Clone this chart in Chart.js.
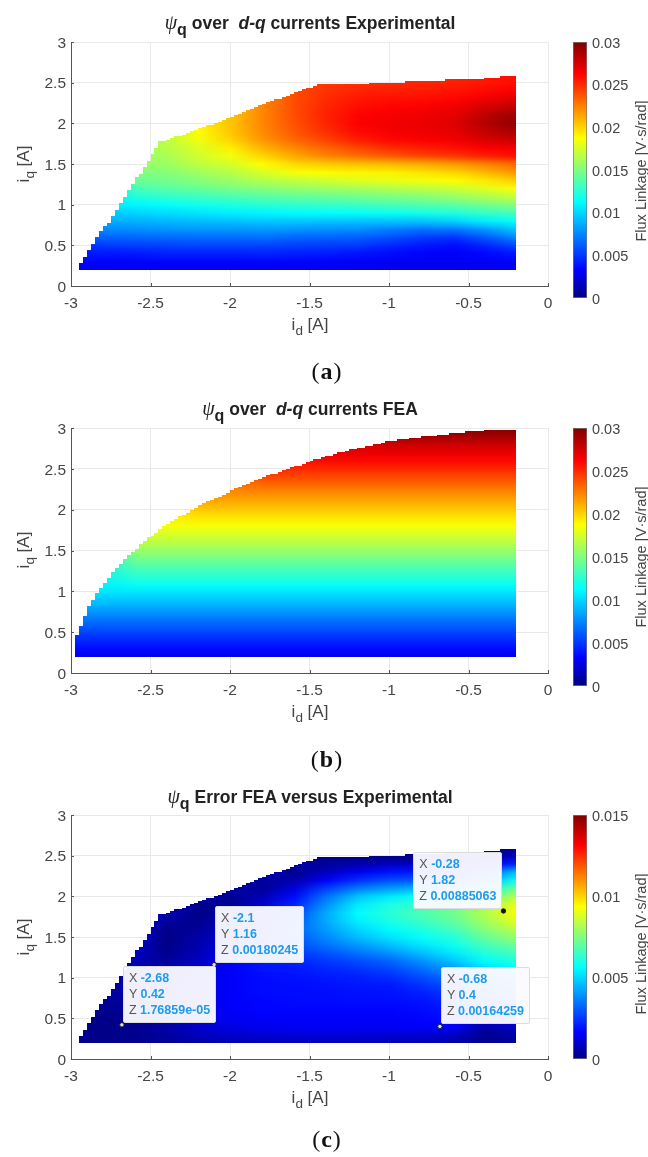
<!DOCTYPE html>
<html>
<head>
<meta charset="utf-8">
<script src="https://cdn.jsdelivr.net/npm/chart.js@4"></script>
<style>
    body { margin: 0; background: #fff; }
    #page { position: relative; width: 648px; height: 1157px; overflow: hidden; font-family: "Liberation Sans", sans-serif; color: #454545; }
    canvas { position: absolute; }
    .title { position: absolute; left: 0; width: 620px; text-align: center; font-weight: bold; font-size: 17.5px; line-height: 20px; color: #222; white-space: pre; }
    .title .psi { font: italic 20px "Liberation Serif", serif; }
    .title sub { font-size: 16px; line-height: 0; vertical-align: -6px; }
    .xlabel, .ylabel, .cblabel { position: absolute; font-size: 17px; line-height: 20px; white-space: nowrap; }
    .xlabel { left: 250px; width: 120px; text-align: center; }
    .ylabel { left: -36px; width: 120px; text-align: center; transform: rotate(-90deg); }
    .cblabel { left: 561px; width: 160px; text-align: center; font-size: 14.5px; transform: rotate(-90deg); }
    .xlabel sub, .ylabel sub { font-size: 13.5px; line-height: 0; vertical-align: -5px; }
    .caption { position: absolute; left: 227px; width: 200px; text-align: center; font: 24px "Liberation Serif", serif; letter-spacing: 1px; color: #111; }
    .tip { position: absolute; background: rgba(250, 250, 255, 0.96); border: 1px solid #dcdcdc; border-radius: 2px; padding: 3px 5px 4px 5px; font-size: 12.5px; line-height: 16px; color: #555; white-space: nowrap; }
    .tip b { color: #1f9bec; }
</style>
</head>
<body>
<div id="page"></div>
<script>
// current axes
const xTicks = [-3, -2.5, -2, -1.5, -1, -0.5, 0];
const yTicks = [0, 0.5, 1, 1.5, 2, 2.5, 3];
const fluxTicks = [0, 0.005, 0.01, 0.015, 0.02, 0.025, 0.03];
const errorTicks = [0, 0.005, 0.01, 0.015];

// grid nodes, flux values in units of 1e-3 V*s/rad
const idFine = [-3.0, -2.8, -2.6, -2.4, -2.2, -2.0, -1.8, -1.6, -1.4, -1.2, -1.0, -0.8, -0.6, -0.4, -0.2];
const iqExp = [0.2, 0.3, 0.4, 0.5, 0.6, 0.7, 0.8, 0.9, 1.0, 1.1, 1.2, 1.3, 1.4, 1.5, 1.6, 1.7, 1.8, 1.9, 2.0, 2.1, 2.2, 2.3, 2.4, 2.5, 2.6];
const idCoarse = [-3.0, -2.6, -2.2, -1.8, -1.4, -1.0, -0.6, -0.2];
const iqFea = [0.2, 0.3, 0.4, 0.5, 0.6, 0.7, 0.8, 0.9, 1.0, 1.1, 1.2, 1.3, 1.4, 1.5, 1.6, 1.7, 1.8, 1.9, 2.0, 2.1, 2.2, 2.3, 2.4, 2.5, 2.6, 2.7, 2.8, 2.9, 3.0];
const __ = null;

const psiExperimental = [
    [2.7, 2.7, 2.7, 2.7, 2.7, 2.7, 2.7, 2.7, 2.7, 2.7, 2.6, 2.6, 2.6, 2.6, 2.7],
    [3.3, 3.3, 3.3, 3.4, 3.4, 3.4, 3.4, 3.4, 3.3, 3.2, 3.0, 3.0, 3.0, 3.2, 3.3],
    [4.0, 4.0, 4.1, 4.3, 4.3, 4.3, 4.4, 4.2, 4.1, 3.9, 3.6, 3.3, 3.1, 3.5, 4.0],
    [5.0, 5.0, 5.2, 5.3, 5.4, 5.4, 5.4, 5.2, 5.1, 5.0, 4.5, 4.0, 3.6, 4.4, 5.5],
    [6.4, 6.4, 6.5, 6.6, 6.7, 6.7, 6.8, 6.5, 6.4, 6.3, 5.8, 5.2, 4.9, 6.0, 7.5],
    [__, 7.6, 7.7, 7.9, 8.0, 8.0, 8.1, 7.9, 7.8, 7.7, 7.3, 6.9, 7.0, 8.0, 9.5],
    [__, 8.7, 8.9, 9.1, 9.3, 9.4, 9.6, 9.6, 9.5, 9.5, 9.5, 9.5, 10.0, 10.8, 11.5],
    [__, 9.6, 9.9, 10.2, 10.5, 10.8, 11.0, 11.2, 11.3, 11.4, 11.6, 11.9, 12.2, 12.8, 13.3],
    [__, 10.6, 11.0, 11.3, 11.7, 12.0, 12.4, 12.6, 12.8, 13.0, 13.3, 13.6, 14.0, 14.6, 15.2],
    [__, __, 12.2, 12.6, 13.0, 13.4, 13.8, 14.1, 14.3, 14.6, 14.9, 15.2, 15.7, 16.3, 17.0],
    [__, __, 13.4, 13.9, 14.3, 14.8, 15.2, 15.6, 15.9, 16.2, 16.5, 16.8, 17.2, 17.8, 18.6],
    [__, __, 14.4, 14.6, 15.2, 15.8, 16.5, 17.0, 17.4, 17.8, 18.1, 18.4, 18.8, 19.4, 20.2],
    [__, __, 15.0, 15.2, 15.9, 16.6, 17.6, 18.5, 18.8, 19.0, 19.1, 19.5, 20.0, 20.8, 21.8],
    [__, __, 15.6, 15.8, 16.8, 17.5, 18.8, 19.8, 20.3, 20.6, 20.8, 21.2, 21.7, 22.4, 23.2],
    [__, __, 15.8, 16.2, 17.4, 18.4, 20.0, 21.3, 22.3, 23.0, 23.6, 24.2, 24.7, 25.3, 25.8],
    [__, __, __, 16.6, 17.7, 19.2, 21.0, 22.3, 23.3, 24.2, 25.0, 25.4, 25.8, 26.3, 26.6],
    [__, __, __, 16.8, 18.4, 20.0, 21.8, 23.2, 24.3, 25.4, 26.0, 26.3, 26.6, 27.3, 27.8],
    [__, __, __, 17.0, 18.8, 20.4, 22.2, 23.7, 24.9, 26.0, 26.5, 26.7, 27.0, 28.0, 28.8],
    [__, __, __, __, 19.2, 20.5, 22.3, 23.9, 25.2, 26.3, 26.6, 26.8, 27.2, 28.4, 29.5],
    [__, __, __, __, __, 20.5, 22.3, 24.0, 25.3, 26.2, 26.5, 26.7, 27.0, 28.2, 29.2],
    [__, __, __, __, __, __, 22.3, 24.0, 25.2, 25.9, 26.2, 26.3, 26.7, 27.5, 28.2],
    [__, __, __, __, __, __, 22.3, 24.0, 25.0, 25.6, 25.8, 25.9, 26.1, 26.7, 27.2],
    [__, __, __, __, __, __, __, 24.0, 24.8, 25.2, 25.4, 25.5, 25.7, 26.0, 26.4],
    [__, __, __, __, __, __, __, __, 24.7, 24.9, 25.1, 25.2, 25.3, 25.6, 25.9],
    [__, __, __, __, __, __, __, __, __, __, 25.1, 25.2, 25.3, 25.6, 25.9]
];

const psiFea = [
    [2.8, 2.8, 2.8, 2.8, 2.8, 2.8, 2.8, 2.8],
    [3.6, 3.6, 3.6, 3.6, 3.6, 3.6, 3.6, 3.6],
    [4.5, 4.5, 4.5, 4.5, 4.5, 4.5, 4.5, 4.5],
    [5.4, 5.4, 5.4, 5.4, 5.4, 5.4, 5.4, 5.4],
    [6.4, 6.4, 6.4, 6.4, 6.4, 6.4, 6.4, 6.4],
    [7.4, 7.4, 7.4, 7.4, 7.4, 7.4, 7.4, 7.4],
    [8.5, 8.5, 8.5, 8.5, 8.5, 8.5, 8.5, 8.5],
    [9.5, 9.5, 9.5, 9.5, 9.5, 9.5, 9.5, 9.5],
    [10.6, 10.6, 10.6, 10.6, 10.6, 10.6, 10.6, 10.6],
    [__, 11.6, 11.6, 11.6, 11.6, 11.6, 11.6, 11.6],
    [__, 12.6, 12.6, 12.6, 12.6, 12.6, 12.6, 12.6],
    [__, 13.6, 13.6, 13.6, 13.6, 13.6, 13.6, 13.6],
    [__, 14.6, 14.6, 14.6, 14.6, 14.6, 14.6, 14.6],
    [__, 15.7, 15.7, 15.7, 15.7, 15.7, 15.7, 15.7],
    [__, 16.7, 16.7, 16.7, 16.7, 16.7, 16.7, 16.7],
    [__, 17.6, 17.6, 17.6, 17.6, 17.6, 17.6, 17.6],
    [__, 18.5, 18.5, 18.5, 18.5, 18.5, 18.5, 18.5],
    [__, __, 19.4, 19.4, 19.4, 19.4, 19.4, 19.4],
    [__, __, 20.3, 20.3, 20.3, 20.3, 20.3, 20.3],
    [__, __, 21.2, 21.2, 21.2, 21.2, 21.2, 21.2],
    [__, __, 22.1, 22.1, 22.1, 22.1, 22.1, 22.1],
    [__, __, __, 23.1, 23.1, 23.1, 23.1, 23.1],
    [__, __, __, 24.1, 24.1, 24.1, 24.1, 24.1],
    [__, __, __, 25.1, 25.1, 25.1, 25.1, 25.1],
    [__, __, __, __, 26.0, 26.0, 26.0, 26.0],
    [__, __, __, __, 26.9, 26.9, 26.9, 26.9],
    [__, __, __, __, __, 27.8, 27.8, 27.8],
    [__, __, __, __, __, 28.9, 28.9, 28.9],
    [__, __, __, __, __, __, 30.0, 30.0]
];

const psiError = [
    [0.2, 0.2, 0.2, 0.3, 0.5, 0.6, 0.7, 0.7, 0.7, 0.7, 0.7, 0.7, 0.5, 0.3, 0.4],
    [0.1, 0.1, 0.2, 0.4, 0.8, 1.0, 1.1, 1.2, 1.2, 1.2, 1.1, 1.1, 0.9, 0.2, 0.5],
    [0.1, 0.1, 0.2, 0.5, 1.0, 1.3, 1.4, 1.5, 1.5, 1.5, 1.5, 1.6, 1.6, 0.6, 1.0],
    [0.1, 0.1, 0.2, 0.7, 1.2, 1.5, 1.6, 1.6, 1.6, 1.6, 1.6, 1.7, 1.8, 1.4, 1.6],
    [0.2, 0.2, 0.3, 0.8, 1.3, 1.6, 1.7, 1.7, 1.7, 1.7, 1.7, 1.8, 2.0, 2.3, 2.6],
    [__, 0.3, 0.4, 0.9, 1.4, 1.6, 1.7, 1.8, 1.8, 1.8, 1.8, 1.9, 2.2, 2.8, 3.4],
    [__, 0.4, 0.5, 1.0, 1.4, 1.6, 1.8, 1.8, 1.8, 1.9, 1.9, 2.1, 2.5, 3.2, 4.0],
    [__, 0.5, 0.5, 0.9, 1.4, 1.6, 1.8, 1.8, 1.9, 2.0, 2.0, 2.4, 2.9, 3.7, 4.6],
    [__, 0.5, 0.5, 0.8, 1.3, 1.6, 1.8, 1.9, 2.0, 2.1, 2.3, 2.8, 3.4, 4.3, 5.3],
    [__, __, 0.6, 0.6, 1.1, 1.6, 1.9, 2.0, 2.2, 2.4, 2.7, 3.3, 4.0, 5.0, 5.6],
    [__, __, 0.7, 0.4, 0.9, 1.6, 2.0, 2.2, 2.5, 2.8, 3.2, 3.9, 4.7, 5.6, 6.0],
    [__, __, 0.8, 0.2, 0.7, 1.5, 2.1, 2.5, 2.9, 3.4, 3.9, 4.6, 5.3, 6.1, 6.6],
    [__, __, 0.9, 0.1, 0.6, 1.3, 2.2, 2.8, 3.4, 4.0, 4.6, 5.2, 5.8, 6.6, 7.2],
    [__, __, 1.0, 0.1, 0.5, 1.2, 2.3, 3.0, 3.8, 4.6, 5.2, 5.7, 6.2, 7.1, 7.8],
    [__, __, 1.0, 0.2, 0.3, 1.0, 2.0, 3.2, 4.1, 5.0, 5.6, 6.1, 6.7, 7.6, 8.4],
    [__, __, __, 0.4, 0.2, 0.8, 1.7, 3.0, 4.3, 5.4, 6.0, 6.5, 7.1, 8.0, 9.0],
    [__, __, __, 0.7, 0.1, 0.5, 1.4, 2.7, 4.3, 5.6, 6.2, 6.8, 7.3, 8.2, 9.3],
    [__, __, __, 0.8, 0.2, 0.3, 1.0, 2.2, 3.9, 5.3, 6.0, 6.4, 7.0, 8.1, 9.0],
    [__, __, __, __, 0.6, 0.2, 0.7, 1.8, 3.4, 4.7, 5.3, 5.8, 6.3, 7.0, 8.3],
    [__, __, __, __, __, 0.6, 0.3, 1.2, 2.6, 3.6, 4.1, 4.5, 5.0, 5.8, 7.2],
    [__, __, __, __, __, __, 0.4, 0.6, 1.6, 2.4, 2.9, 3.1, 3.5, 4.4, 5.9],
    [__, __, __, __, __, __, 0.7, 0.2, 0.8, 1.4, 1.9, 2.0, 2.2, 3.0, 4.6],
    [__, __, __, __, __, __, __, 0.6, 0.3, 0.6, 0.8, 0.9, 1.0, 1.3, 2.2],
    [__, __, __, __, __, __, __, __, 0.1, 0.1, 0.1, 0.1, 0.2, 0.3, 0.8],
    [__, __, __, __, __, __, __, __, __, __, 0.1, 0.1, 0.2, 0.3, 0.3]
];

// outline of the measured / simulated regions
const edgeExpId = [-2.96, -2.43, -2.38, -2.15, -2.0, -1.7, -1.44, -1.25, -0.9, -0.5, -0.3, -0.3, -0.2, -0.2, -2.96];
const edgeExpIq = [0.2, 1.77, 1.8, 1.96, 2.07, 2.3, 2.48, 2.48, 2.51, 2.54, 2.56, 2.58, 2.58, 0.2, 0.2];
const edgeFeaId = [-2.98, -2.98, -2.96, -2.92, -2.88, -2.82, -2.75, -2.67, -2.57, -2.41, -2.32, -2.18, -2.05, -1.89, -1.68, -1.45, -1.22, -1.01, -0.75, -0.49, -0.33, -0.2, -0.2, -2.98];
const edgeFeaIq = [0.2, 0.34, 0.47, 0.67, 0.84, 1.02, 1.2, 1.38, 1.56, 1.8, 1.9, 2.06, 2.17, 2.32, 2.47, 2.62, 2.74, 2.83, 2.9, 2.96, 2.98, 2.98, 0.2, 0.2];

// data tips of the error plot
const tipX = [-2.68, -2.1, -0.28, -0.68];
const tipY = [0.42, 1.16, 1.82, 0.4];
const tipZ = ['1.76859e-05', '0.00180245', '0.00885063', '0.00164259'];

// jet colormap
const jetStops = [0, 0.11, 0.375, 0.625, 0.875, 1];
const jetColors = [[0, 0, 128], [0, 0, 255], [0, 255, 255], [255, 255, 0], [255, 0, 0], [128, 0, 0]];

function jet(f) {
    f = Math.max(0, Math.min(1, f));
    for (let i = 1; i < jetStops.length; i++) {
        if (f <= jetStops[i]) {
            const t = (f - jetStops[i - 1]) / (jetStops[i] - jetStops[i - 1]);
            return jetColors[i].map((c, k) => Math.round(jetColors[i - 1][k] + (c - jetColors[i - 1][k]) * t));
        }
    }
    return jetColors[jetColors.length - 1];
}

// smooth fill (like MATLAB "shading interp") that every bar cell samples from
function heatPattern(chart, panel) {
    // controllers are reset once before the first layout, the scales have no size yet
    if (!chart.chartArea) return 'rgba(0,0,0,0)';
    if (chart.$heat) return chart.$heat;
    const cols = panel.ids.length, rows = panel.iqs.length;
    const small = document.createElement('canvas');
    small.width = cols;
    small.height = rows;
    const sctx = small.getContext('2d');
    const img = sctx.createImageData(cols, rows);
    for (let c = 0; c < cols; c++) {
        let last = 0;
        for (let r = 0; r < rows; r++) {
            if (panel.z[r][c] !== null) last = panel.z[r][c];
            const rgb = jet(last / panel.zMax);
            const p = ((rows - 1 - r) * cols + c) * 4;
            img.data[p] = rgb[0];
            img.data[p + 1] = rgb[1];
            img.data[p + 2] = rgb[2];
            img.data[p + 3] = 255;
        }
    }
    sctx.putImageData(img, 0, 0);

    const big = document.createElement('canvas');
    big.width = chart.width;
    big.height = chart.height;
    const bctx = big.getContext('2d');
    bctx.imageSmoothingEnabled = true;
    bctx.imageSmoothingQuality = 'low';
    const dx = panel.ids[1] - panel.ids[0], dy = panel.iqs[1] - panel.iqs[0];
    const x0 = chart.scales.x.getPixelForValue(panel.ids[0] - dx / 2);
    const x1 = chart.scales.x.getPixelForValue(panel.ids[cols - 1] + dx / 2);
    const y0 = chart.scales.y.getPixelForValue(panel.iqs[rows - 1] + dy / 2);
    const y1 = chart.scales.y.getPixelForValue(panel.iqs[0] - dy / 2);
    bctx.drawImage(small, x0, y0, x1 - x0, y1 - y0);
    chart.$heat = chart.ctx.createPattern(big, 'repeat');
    return chart.$heat;
}

// keeps the cells inside the outline, snapped to the stairs of the measuring grid
const clipToEdge = {
    id: 'clipToEdge',
    beforeDatasetDraw(chart, args, opts) {
        if (args.meta.type !== 'bar') return;
        const ctx = chart.ctx;
        ctx.save();
        ctx.beginPath();
        let px = null;
        const stepTo = (v, w) => {
            const x = Math.round(chart.scales.x.getPixelForValue(Math.round(v / 0.025) * 0.025));
            const y = Math.round(chart.scales.y.getPixelForValue(Math.round(w / 0.02) * 0.02));
            if (px === null) ctx.moveTo(x, y);
            else {
                ctx.lineTo(px, y);
                ctx.lineTo(x, y);
            }
            px = x;
        };
        opts.ids.forEach((v, i) => {
            if (i === 0) {
                stepTo(v, opts.iqs[0]);
                return;
            }
            for (let k = 1; k <= 40; k++) {
                stepTo(opts.ids[i - 1] + (v - opts.ids[i - 1]) * k / 40, opts.iqs[i - 1] + (opts.iqs[i] - opts.iqs[i - 1]) * k / 40);
            }
        });
        ctx.closePath();
        ctx.clip();
    },
    afterDatasetDraw(chart, args) {
        if (args.meta.type === 'bar') chart.ctx.restore();
    }
};

// MATLAB style ticks pointing into the axes
const inwardTicks = {
    id: 'inwardTicks',
    afterDraw(chart) {
        const ctx = chart.ctx, area = chart.chartArea;
        ctx.save();
        ctx.strokeStyle = '#555';
        ctx.lineWidth = 1;
        ctx.beginPath();
        chart.scales.y.ticks.forEach(t => {
            const y = Math.round(chart.scales.y.getPixelForValue(t.value)) + 0.5;
            ctx.moveTo(area.left, y);
            ctx.lineTo(area.left + 3, y);
        });
        chart.scales.x.ticks.forEach(t => {
            const x = Math.round(chart.scales.x.getPixelForValue(t.value)) + 0.5;
            ctx.moveTo(x, area.bottom);
            ctx.lineTo(x, area.bottom - 3);
        });
        ctx.stroke();
        ctx.restore();
    }
};

function addCanvas(left, top, width, height) {
    const canvas = document.createElement('canvas');
    canvas.width = width;
    canvas.height = height;
    canvas.style.left = left + 'px';
    canvas.style.top = top + 'px';
    document.getElementById('page').appendChild(canvas);
    return canvas;
}

function addText(cls, top, html) {
    const div = document.createElement('div');
    div.className = cls;
    div.style.top = top + 'px';
    div.innerHTML = html;
    document.getElementById('page').appendChild(div);
    return div;
}

// the layout must not grow the plot area for half tick labels
function noScalePadding(s) {
    s.paddingTop = 0;
    s.paddingBottom = 0;
    s.paddingLeft = 0;
    s.paddingRight = 0;
}

function drawPanel(panel) {
    const dy = panel.iqs[1] - panel.iqs[0];
    const cells = [];
    panel.iqs.forEach((iq, r) => {
        panel.ids.forEach((id, c) => {
            if (panel.z[r][c] !== null) cells.push({ x: id, y: [iq - dy / 2, iq + dy / 2 + 0.012] });
        });
    });

    const datasets = [{
        data: cells,
        order: 2,
        backgroundColor: ctx => heatPattern(ctx.chart, panel),
        borderWidth: 0,
        barPercentage: 1.05,
        categoryPercentage: 1
    }];
    if (panel.tips) {
        datasets.push({
            type: 'scatter',
            order: 1,
            data: tipX.map((x, i) => ({ x: x, y: tipY[i] })),
            pointRadius: 2.2,
            pointBackgroundColor: ['#ddd', '#ddd', '#111', '#ddd'],
            pointBorderColor: '#222',
            pointBorderWidth: 1
        });
    }

    const tickFont = { family: '"Liberation Sans"', size: 15.5 };
    const chart = new Chart(addCanvas(0, panel.top - 10, 560, panel.bottom - panel.top + 40), {
        type: 'bar',
        data: { datasets: datasets },
        plugins: [clipToEdge, inwardTicks],
        options: {
            responsive: false,
            animation: false,
            events: [],
            layout: { padding: { top: 10, right: 12 } },
            plugins: {
                legend: { display: false },
                tooltip: { enabled: false },
                clipToEdge: { ids: panel.edgeId, iqs: panel.edgeIq }
            },
            scales: {
                x: {
                    type: 'linear', min: -3, max: 0, offset: false,
                    grid: { offset: false, color: '#e9e9e9', drawTicks: false },
                    border: { color: '#555' },
                    afterBuildTicks: s => { s.ticks = xTicks.map(v => ({ value: v })); },
                    afterFit: s => { s.height = 30; noScalePadding(s); },
                    ticks: { font: tickFont, color: '#454545', padding: 8, maxRotation: 0, callback: v => String(v) }
                },
                y: {
                    type: 'linear', min: 0, max: 3,
                    grid: { color: '#e9e9e9', drawTicks: false },
                    border: { color: '#555' },
                    afterBuildTicks: s => { s.ticks = yTicks.map(v => ({ value: v })); },
                    afterFit: s => { s.width = 71; noScalePadding(s); },
                    ticks: { font: tickFont, color: '#454545', padding: 5, labelOffset: 1.5, callback: v => String(v) }
                }
            }
        }
    });

    // colorbar
    new Chart(addCanvas(560, panel.top - 10, 88, panel.barBottom - panel.top + 20), {
        type: 'bar',
        data: {
            labels: [''],
            datasets: [{
                data: [[0, panel.barMax]],
                borderWidth: 1,
                borderColor: '#777',
                borderSkipped: false,
                barPercentage: 1,
                categoryPercentage: 1,
                backgroundColor: ctx => {
                    const area = ctx.chart.chartArea;
                    if (!area) return '#00f';
                    const g = ctx.chart.ctx.createLinearGradient(0, area.bottom, 0, area.top);
                    jetStops.forEach((s, i) => g.addColorStop(s, 'rgb(' + jetColors[i].join(',') + ')'));
                    return g;
                }
            }]
        },
        options: {
            responsive: false,
            animation: false,
            events: [],
            layout: { padding: { top: 10, bottom: 10, left: 13 } },
            plugins: { legend: { display: false }, tooltip: { enabled: false } },
            scales: {
                x: { display: false },
                y: {
                    position: 'right', min: 0, max: panel.barMax,
                    grid: { display: false, drawTicks: false },
                    border: { display: false },
                    afterBuildTicks: s => { s.ticks = panel.barTicks.map(v => ({ value: v })); },
                    afterFit: s => { s.width = 61; noScalePadding(s); },
                    ticks: { font: { family: '"Liberation Sans"', size: 14.5 }, color: '#454545', padding: 5, labelOffset: 1.5, callback: v => String(v) }
                }
            }
        }
    });

    addText('title', panel.titleY, panel.title);
    addText('xlabel', panel.bottom + 29, 'i<sub>d</sub> [A]');
    addText('ylabel', panel.top + 112, 'i<sub>q</sub> [A]');
    addText('cblabel', panel.top + 119, 'Flux Linkage [V·s/rad]');
    addText('caption', panel.captionY, '(<b>' + panel.letter + '</b>)');

    if (panel.tips) {
        tipX.forEach((x, i) => {
            const px = chart.scales.x.getPixelForValue(x);
            const py = chart.scales.y.getPixelForValue(tipY[i]) + panel.top - 10;
            const tip = addText('tip', py - 59, 'X <b>' + x + '</b><br>Y <b>' + tipY[i] + '</b><br>Z <b>' + tipZ[i] + '</b>');
            // the tip at the right edge opens to the left of its point
            if (i === 2) tip.style.right = (648 - px + 1) + 'px';
            else tip.style.left = (px + 1) + 'px';
        });
    }
}

const psi = '<span class="psi">ψ</span><sub>q</sub> ';

drawPanel({
    ids: idFine, iqs: iqExp, z: psiExperimental, zMax: 30,
    edgeId: edgeExpId, edgeIq: edgeExpIq,
    top: 42, bottom: 286, barBottom: 298, barMax: 0.03, barTicks: fluxTicks,
    title: psi + 'over  <i>d-q</i> currents Experimental', titleY: 11, letter: 'a', captionY: 358
});
drawPanel({
    ids: idCoarse, iqs: iqFea, z: psiFea, zMax: 30,
    edgeId: edgeFeaId, edgeIq: edgeFeaIq,
    top: 428, bottom: 673, barBottom: 686, barMax: 0.03, barTicks: fluxTicks,
    title: psi + 'over  <i>d-q</i> currents FEA', titleY: 397, letter: 'b', captionY: 746
});
drawPanel({
    ids: idFine, iqs: iqExp, z: psiError, zMax: 15,
    edgeId: edgeExpId, edgeIq: edgeExpIq,
    top: 815, bottom: 1059, barBottom: 1059, barMax: 0.015, barTicks: errorTicks,
    title: psi + 'Error FEA versus Experimental', titleY: 785, letter: 'c', captionY: 1126, tips: true
});
</script>
</body>
</html>
